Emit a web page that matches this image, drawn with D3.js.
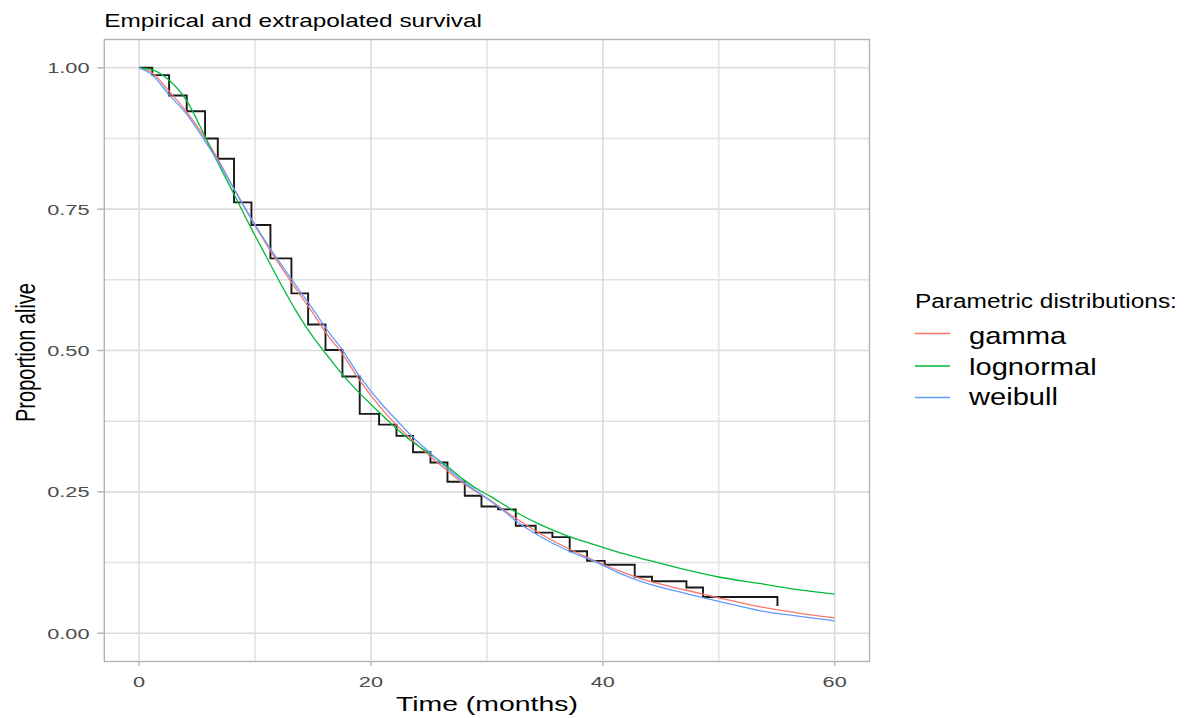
<!DOCTYPE html>
<html>
<head>
<meta charset="utf-8">
<script src="https://cdn.jsdelivr.net/npm/d3@7"></script>
<style>
  html, body { margin: 0; padding: 0; background: #ffffff; }
  svg { display: block; }
  text { font-family: "Liberation Sans", Arial, Helvetica, sans-serif; }
</style>
</head>
<body>
<svg id="chart" width="1189" height="718"></svg>
<script>
// Kaplan-Meier estimate: event times (months) and survival after each drop
const kmTime = [0, 1.14, 2.59, 4.11, 5.69, 6.79, 8.19, 9.69, 11.33, 13.14, 14.58, 16.08,
  17.54, 19.03, 20.70, 22.20, 23.63, 25.13, 26.60, 28.09, 29.53, 30.96, 32.49, 34.21,
  35.65, 37.14, 38.64, 40.16, 42.75, 44.24, 47.21, 48.64, 55.06];
const kmSurv = [1, 0.987, 0.951, 0.923, 0.875, 0.839, 0.762, 0.722, 0.663, 0.601, 0.546, 0.501,
  0.454, 0.388, 0.369, 0.349, 0.320, 0.302, 0.268, 0.243, 0.224, 0.219, 0.190, 0.178,
  0.170, 0.145, 0.128, 0.121, 0.100, 0.092, 0.081, 0.064, 0.048];

// Fitted parametric survival curves, sampled on a common time grid
const fitTime = [0, 1.2, 2.6, 4.1, 5.7, 6.7, 8.1, 9.6, 11, 12.4, 13.6, 15, 16.2, 17.6, 19,
  20.8, 22.2, 23.6, 25.1, 26.5, 27.9, 29.4, 30.3, 31.1, 32.6, 34.6, 37.1, 38.9, 40,
  41.7, 43.2, 47.2, 50.1, 53.5, 56.5, 60];
const gammaSurv = [1, 0.990, 0.958, 0.922, 0.875, 0.842, 0.789, 0.735, 0.687, 0.643, 0.607,
  0.566, 0.529, 0.492, 0.448, 0.400, 0.368, 0.341, 0.313, 0.289, 0.266, 0.246, 0.235,
  0.223, 0.202, 0.176, 0.149, 0.132, 0.122, 0.108, 0.097, 0.076, 0.062, 0.047, 0.037, 0.027];
const lognormalSurv = [1, 0.996, 0.978, 0.942, 0.878, 0.836, 0.780, 0.719, 0.665, 0.611, 0.568,
  0.524, 0.492, 0.456, 0.425, 0.389, 0.362, 0.338, 0.317, 0.296, 0.273, 0.252, 0.242,
  0.232, 0.213, 0.192, 0.171, 0.159, 0.152, 0.141, 0.133, 0.112, 0.099, 0.088, 0.078, 0.069];
const weibullSurv = [1, 0.986, 0.952, 0.918, 0.870, 0.838, 0.789, 0.736, 0.690, 0.648, 0.613,
  0.573, 0.537, 0.499, 0.455, 0.408, 0.377, 0.347, 0.319, 0.293, 0.269, 0.247, 0.234,
  0.222, 0.197, 0.171, 0.145, 0.130, 0.120, 0.104, 0.092, 0.070, 0.056, 0.040, 0.031, 0.022];

const seriesNames = ["gamma", "lognormal", "weibull"];
const seriesValues = [gammaSurv, lognormalSurv, weibullSurv];
const seriesColors = ["#F8766D", "#00BA38", "#619CFF"];

const xTicks = [0, 20, 40, 60];
const xMinor = [10, 30, 50];
const yTicks = [0, 0.25, 0.5, 0.75, 1];
const yMinor = [0.125, 0.375, 0.625, 0.875];
const yTickLabels = ["0.00", "0.25", "0.50", "0.75", "1.00"];

const titleText = "Empirical and extrapolated survival";
const xTitle = "Time (months)";
const yTitle = "Proportion alive";
const legendTitle = "Parametric distributions:";

const svg = d3.select("#chart");

// panel geometry
const panel = { left: 104.3, right: 869.5, top: 39.5, bottom: 661.5 };
const x = d3.scaleLinear().domain([-3, 63]).range([panel.left, panel.right]);
const y = d3.scaleLinear().domain([-0.05, 1.05]).range([panel.bottom, panel.top]);

// text with independent horizontal scaling (glyphs are drawn wide)
function wideText(parent, str, opt) {
  const g = parent.append("g");
  const t = g.append("text")
    .text(str)
    .attr("font-size", opt.size)
    .attr("text-anchor", opt.anchor || "start")
    .attr("fill", opt.fill || "#000");
  let k = opt.sx || 1;
  if (opt.width) k = opt.width / t.node().getComputedTextLength();
  const rot = opt.rotate ? " rotate(-90)" : "";
  g.attr("transform", `translate(${opt.x},${opt.y}) scale(${k},1)${rot}`);
  return g;
}

// grid
const grid = svg.append("g");
grid.selectAll("line.vminor").data(xMinor).join("line")
  .attr("x1", d => x(d)).attr("x2", d => x(d))
  .attr("y1", panel.top).attr("y2", panel.bottom)
  .attr("stroke", "#e1e1e1").attr("stroke-width", 1.4);
grid.selectAll("line.hminor").data(yMinor).join("line")
  .attr("y1", d => y(d)).attr("y2", d => y(d))
  .attr("x1", panel.left).attr("x2", panel.right)
  .attr("stroke", "#e1e1e1").attr("stroke-width", 1.4);
grid.selectAll("line.vmajor").data(xTicks).join("line")
  .attr("x1", d => x(d)).attr("x2", d => x(d))
  .attr("y1", panel.top).attr("y2", panel.bottom)
  .attr("stroke", "#dcdcdc").attr("stroke-width", 1.6);
grid.selectAll("line.hmajor").data(yTicks).join("line")
  .attr("y1", d => y(d)).attr("y2", d => y(d))
  .attr("x1", panel.left).attr("x2", panel.right)
  .attr("stroke", "#dcdcdc").attr("stroke-width", 1.6);

// fitted curves
const fitLine = d3.line()
  .x(d => x(d[0]))
  .y(d => y(d[1]))
  .curve(d3.curveMonotoneX);

// Kaplan-Meier step function
const kmLine = d3.line()
  .x(d => x(d[0]))
  .y(d => y(d[1]))
  .curve(d3.curveStepAfter);

svg.append("path")
  .datum(kmTime.map((t, i) => [t, kmSurv[i]]))
  .attr("d", kmLine)
  .attr("fill", "none")
  .attr("stroke", "#1a1a1a")
  .attr("stroke-width", 1.9);

seriesValues.forEach((vals, s) => {
  svg.append("path")
    .datum(fitTime.map((t, i) => [t, vals[i]]))
    .attr("d", fitLine)
    .attr("fill", "none")
    .attr("stroke", seriesColors[s])
    .attr("stroke-width", 1.3);
});

// panel border
svg.append("rect")
  .attr("x", panel.left).attr("y", panel.top)
  .attr("width", panel.right - panel.left)
  .attr("height", panel.bottom - panel.top)
  .attr("fill", "none")
  .attr("stroke", "#b3b3b3")
  .attr("stroke-width", 1.4);

// axis ticks
svg.append("g").selectAll("line").data(xTicks).join("line")
  .attr("x1", d => x(d)).attr("x2", d => x(d))
  .attr("y1", panel.bottom).attr("y2", panel.bottom + 4.5)
  .attr("stroke", "#b3b3b3").attr("stroke-width", 1.4);
svg.append("g").selectAll("line").data(yTicks).join("line")
  .attr("y1", d => y(d)).attr("y2", d => y(d))
  .attr("x1", panel.left - 7).attr("x2", panel.left)
  .attr("stroke", "#b3b3b3").attr("stroke-width", 1.4);

// tick labels
const tickSx = 1.45;
xTicks.forEach(v => {
  wideText(svg, String(v), { x: x(v), y: 686.5, size: 15, anchor: "middle", sx: tickSx, fill: "#4d4d4d" });
});
yTicks.forEach((v, i) => {
  wideText(svg, yTickLabels[i], { x: 89.5, y: y(v) + 5.6, size: 15, anchor: "end", sx: tickSx, fill: "#4d4d4d" });
});

// titles
wideText(svg, titleText, { x: 104.3, y: 26.5, size: 18, width: 378 });
wideText(svg, xTitle, { x: (panel.left + panel.right) / 2, y: 710.5, size: 20, anchor: "middle", width: 182 });
wideText(svg, yTitle, { x: 35, y: 352.5, size: 20, anchor: "middle", sx: 1.4, rotate: true });

// legend
wideText(svg, legendTitle, { x: 915, y: 308, size: 19.5, width: 262 });
const keyY = [333.5, 366, 397.5];
const labelY = [344, 374.5, 405];
const labelW = [97.4, 127.7, 89];
seriesNames.forEach((name, i) => {
  svg.append("line")
    .attr("x1", 915).attr("x2", 950)
    .attr("y1", keyY[i]).attr("y2", keyY[i])
    .attr("stroke", seriesColors[i]).attr("stroke-width", 1.5);
  wideText(svg, name, { x: 969, y: labelY[i], size: 24, width: labelW[i] });
});
</script>
</body>
</html>
